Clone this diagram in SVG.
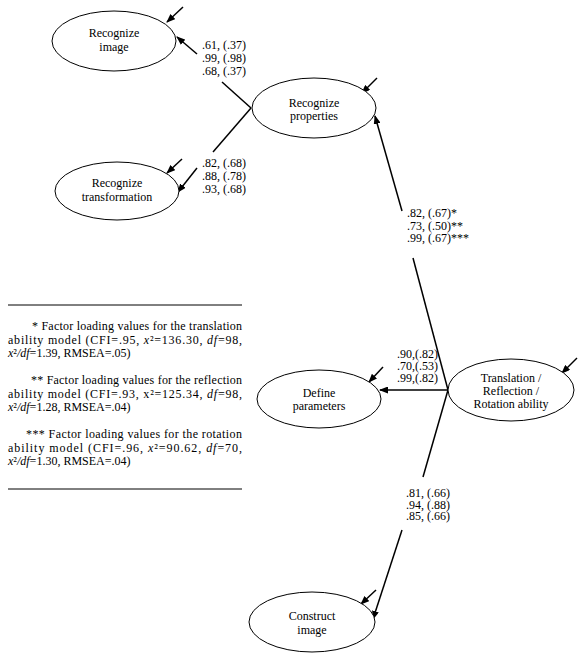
<svg xmlns="http://www.w3.org/2000/svg" width="583" height="657" viewBox="0 0 583 657" font-family="'Liberation Serif','Times New Roman',serif">
<defs>
<marker id="ah" markerWidth="9" markerHeight="7" refX="8" refY="3.5" orient="auto" markerUnits="userSpaceOnUse">
<path d="M0,0 L9,3.5 L0,7 Z" fill="#000"/>
</marker>
<style>
.n ellipse{fill:#fff;stroke:#000;stroke-width:1}
text{font-family:"Liberation Serif","Times New Roman",serif;font-size:12px;fill:#000}
.c{text-anchor:middle}
.e{stroke:#000;stroke-width:1.5;fill:none;marker-end:url(#ah)}
.l{stroke:#000;stroke-width:1.5;fill:none}
.rule{stroke:#000;stroke-width:1}
.i{font-style:italic}
</style>
</defs>
<rect width="583" height="657" fill="#fff"/>

<g id="connectors">
<path class="l" d="M251,108 L222,82"/>
<path class="e" d="M197,54 L177,37"/>
<path class="l" d="M251,108 L213,152"/>
<path class="e" d="M197,168 L178,192"/>
<path class="l" d="M448,390 L413,258"/>
<path class="e" d="M402,211 L375,116"/>
<path class="e" d="M448,390 L380,390"/>
<path class="l" d="M448,390 L423,477"/>
<path class="e" d="M402,530 L373,619"/>
<path class="e" d="M183,7 L167,22"/>
<path class="e" d="M182,159 L167,173"/>
<path class="e" d="M377,78 L362,93"/>
<path class="e" d="M383,367 L369,382"/>
<path class="e" d="M577,358 L562,373"/>
<path class="e" d="M376,590 L361,604"/>
</g>

<g id="n_recognize_image" class="n">
<ellipse cx="114" cy="41" rx="62" ry="30"/>
<text class="c" x="114" y="37">Recognize</text>
<text class="c" x="114" y="51">image</text>
</g>
<g id="n_recognize_transformation" class="n">
<ellipse cx="117" cy="191" rx="62" ry="29"/>
<text class="c" x="117" y="187">Recognize</text>
<text class="c" x="117" y="201">transformation</text>
</g>
<g id="n_recognize_properties" class="n">
<ellipse cx="314" cy="108" rx="62" ry="30"/>
<text class="c" x="314" y="107">Recognize</text>
<text class="c" x="314" y="120">properties</text>
</g>
<g id="n_define_parameters" class="n">
<ellipse cx="319" cy="399" rx="62" ry="29"/>
<text class="c" x="319" y="397">Define</text>
<text class="c" x="319" y="410">parameters</text>
</g>
<g id="n_ability" class="n">
<ellipse cx="511" cy="390" rx="63" ry="31"/>
<text class="c" x="511" y="382">Translation /</text>
<text class="c" x="511" y="395">Reflection /</text>
<text class="c" x="511" y="408">Rotation ability</text>
</g>
<g id="n_construct_image" class="n">
<ellipse cx="312" cy="622" rx="63" ry="30"/>
<text class="c" x="312" y="620">Construct</text>
<text class="c" x="312" y="634">image</text>
</g>

<g id="labels">
<text x="202" y="49">.61, (.37)</text>
<text x="202" y="62">.99, (.98)</text>
<text x="202" y="75">.68, (.37)</text>
<text x="202" y="167">.82, (.68)</text>
<text x="202" y="180">.88, (.78)</text>
<text x="202" y="193">.93, (.68)</text>
<text x="407" y="217">.82, (.67)*</text>
<text x="407" y="229.5">.73, (.50)**</text>
<text x="407" y="242">.99, (.67)***</text>
<text x="397" y="358">.90,(.82)</text>
<text x="397" y="370">.70,(.53)</text>
<text x="397" y="382">.99,(.82)</text>
<text x="406" y="497">.81, (.66)</text>
<text x="406" y="508.5">.94, (.88)</text>
<text x="406" y="520">.85, (.66)</text>
</g>

<g id="footnote">
<line class="rule" x1="8" y1="305" x2="242" y2="305"/>
<line class="rule" x1="8" y1="489" x2="242" y2="489"/>
<text x="32" y="330" textLength="210" lengthAdjust="spacing">* Factor loading values for the translation</text>
<text x="8" y="343.5" textLength="234" lengthAdjust="spacing">ability model (CFI=.95, <tspan class="i">x</tspan>²=136.30, <tspan class="i">df</tspan>=98,</text>
<text x="8" y="357"><tspan class="i">x</tspan>²<tspan class="i">/df</tspan>=1.39, RMSEA=.05)</text>
<text x="31" y="384" textLength="211" lengthAdjust="spacing">** Factor loading values for the reflection</text>
<text x="8" y="397.5" textLength="234" lengthAdjust="spacing">ability model (CFI=.93, x²=125.34, <tspan class="i">df</tspan>=98,</text>
<text x="8" y="411"><tspan class="i">x</tspan>²<tspan class="i">/df</tspan>=1.28, RMSEA=.04)</text>
<text x="26" y="438" textLength="216" lengthAdjust="spacing">*** Factor loading values for the rotation</text>
<text x="8" y="451.5" textLength="234" lengthAdjust="spacing">ability model (CFI=.96, <tspan class="i">x</tspan>²=90.62, <tspan class="i">df</tspan>=70,</text>
<text x="8" y="465"><tspan class="i">x</tspan>²<tspan class="i">/df</tspan>=1.30, RMSEA=.04)</text>
</g>
</svg>
